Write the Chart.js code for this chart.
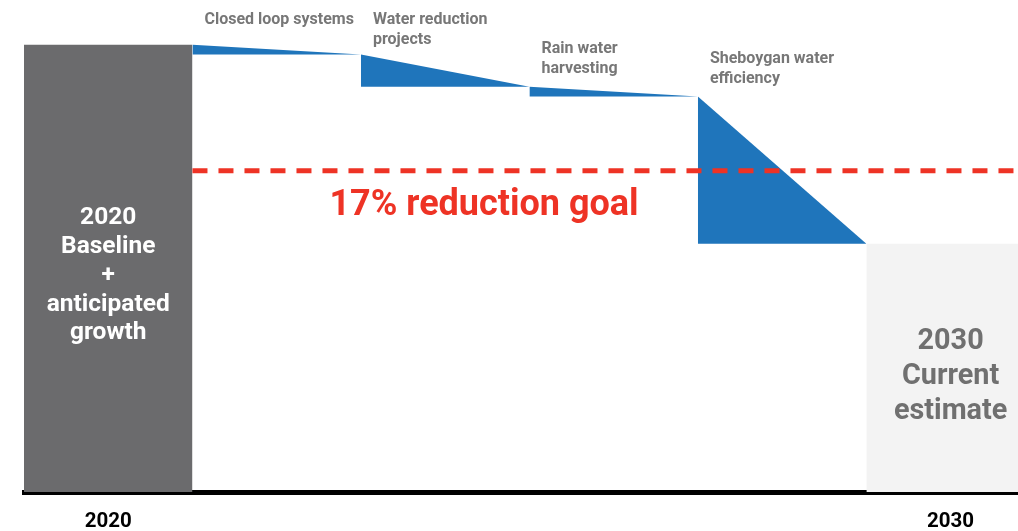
<!DOCTYPE html>
<html>
<head>
<meta charset="utf-8">
<script src="https://cdn.jsdelivr.net/npm/chart.js@4.4.1/dist/chart.umd.min.js"></script>
<style>
  body { margin: 0; background: #fff; }
  #wrap { width: 1018px; height: 531px; position: relative; }
</style>
</head>
<body>
<div id="wrap"><canvas id="waterChart"></canvas></div>
<script>
// Water use waterfall, 2020 baseline -> 2030 estimate
const baseline = 100;
const stepNames = [
    ['Closed loop systems'],
    ['Water reduction', 'projects'],
    ['Rain water', 'harvesting'],
    ['Sheboygan water', 'efficiency']
];
const reductions = [2.2, 7.2, 2.2, 32.9];
const goalLevel = 71.8;
const goalText = '17% reduction goal';
const startText = ['2020', 'Baseline', '+', 'anticipated', 'growth'];
const endText = ['2030', 'Current', 'estimate'];
const xTickLabels = ['2020', '', '', '', '', '2030'];

const BLUE = '#1f75bb';
const DARK = '#6b6b6d';
const LIGHT = '#f3f3f3';
const RED = '#ee3325';

// running levels after each step
const levels = [baseline];
reductions.forEach(r => levels.push(+(levels[levels.length - 1] - r).toFixed(1)));
const finalLevel = levels[levels.length - 1];

const datasets = [];

// 2020 bar
datasets.push({
    data: [{ x: -0.5, y: baseline }, { x: 0.5, y: baseline }],
    backgroundColor: DARK,
    borderColor: 'transparent',
    borderWidth: 0,
    fill: 'origin',
    order: 3
});

// reduction wedges
reductions.forEach((r, i) => {
    datasets.push({
        data: [{ x: i + 0.5, y: levels[i] }, { x: i + 1.5, y: levels[i + 1] }],
        backgroundColor: BLUE,
        borderColor: 'transparent',
        borderWidth: 0,
        fill: { value: levels[i + 1] },
        order: 2
    });
});

// 2030 bar
datasets.push({
    data: [{ x: 4.5, y: finalLevel }, { x: 5.5, y: finalLevel }],
    backgroundColor: LIGHT,
    borderColor: 'transparent',
    borderWidth: 0,
    fill: 'origin',
    order: 3
});

// goal line
datasets.push({
    data: [{ x: 0.5, y: goalLevel }, { x: 5.5, y: goalLevel }],
    borderColor: RED,
    borderWidth: 5,
    borderDash: [15, 11],
    fill: false,
    order: 1
});

// text drawn on top of the shapes
const labelPlugin = {
    id: 'labels',
    afterDatasetsDraw(chart) {
        const ctx = chart.ctx;
        const xs = chart.scales.x;
        const ys = chart.scales.y;
        ctx.save();
        ctx.textBaseline = 'middle';

        // step names
        ctx.fillStyle = '#777777';
        ctx.font = 'bold 16px Roboto';
        ctx.textAlign = 'left';
        const lift = [25, 15, 18, 18];
        stepNames.forEach((lines, i) => {
            const x = xs.getPixelForValue(i + 0.5) + 12;
            const lastY = ys.getPixelForValue(levels[i]) - lift[i];
            lines.forEach((t, k) => {
                ctx.fillText(t, x, lastY - (lines.length - 1 - k) * 20);
            });
        });

        // 2020 bar text
        ctx.fillStyle = '#ffffff';
        ctx.font = 'bold 24.5px Roboto';
        ctx.textAlign = 'center';
        let cx = xs.getPixelForValue(0);
        startText.forEach((t, k) => ctx.fillText(t, cx, 218 + k * 28.8));

        // 2030 bar text
        ctx.fillStyle = '#707070';
        ctx.font = 'bold 28.8px Roboto';
        cx = xs.getPixelForValue(5);
        endText.forEach((t, k) => ctx.fillText(t, cx, 342 + k * 35));

        // goal text
        ctx.fillStyle = RED;
        ctx.font = 'bold 36px Roboto';
        ctx.fillText(goalText, 484, ys.getPixelForValue(goalLevel) + 35);

        ctx.restore();
    }
};

new Chart(document.getElementById('waterChart'), {
    type: 'line',
    data: { datasets: datasets },
    options: {
        responsive: true,
        maintainAspectRatio: false,
        animation: false,
        layout: { padding: { left: 24, right: 0, top: 0, bottom: 0 } },
        elements: { point: { radius: 0, hoverRadius: 0 }, line: { tension: 0 } },
        plugins: {
            legend: { display: false },
            tooltip: { enabled: false }
        },
        scales: {
            x: {
                type: 'linear',
                min: -0.5,
                max: 5.4,
                afterBuildTicks: axis => {
                    axis.ticks = [{ value: 0 }, { value: 5 }];
                },
                afterFit: axis => { axis.height = 39; },
                ticks: {
                    autoSkip: false,
                    maxRotation: 0,
                    padding: 18,
                    color: '#000',
                    font: { family: 'Roboto', weight: 'bold', size: 20.5 },
                    callback: v => xTickLabels[v]
                },
                grid: { display: false, drawTicks: false },
                border: { display: true, color: '#000', width: 5 }
            },
            y: {
                display: false,
                min: 0,
                max: 110
            }
        }
    },
    plugins: [labelPlugin]
});
</script>
</body>
</html>
